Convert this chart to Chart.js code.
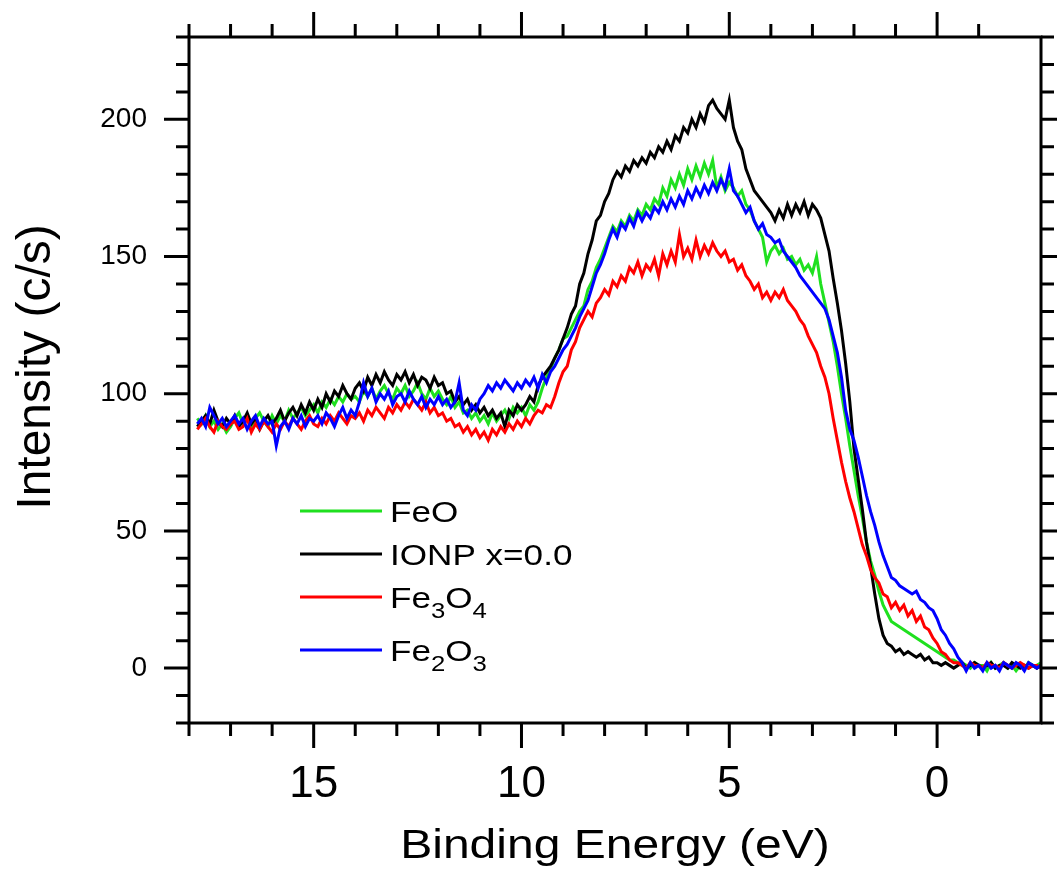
<!DOCTYPE html>
<html>
<head>
<meta charset="utf-8">
<script src="https://cdn.jsdelivr.net/npm/chart.js@4.4.1/dist/chart.umd.min.js"></script>
<style>
  body { margin: 0; background: #fff; }
  #wrap { width: 1057px; height: 873px; }
</style>
</head>
<body>
<div id="wrap"><canvas id="myChart"></canvas></div>
<script>
// binding energy grid, 17.8 eV down to -2.5 eV in 0.1 eV steps
const energyStart = 17.8;
const energyStep = 0.1;
const energy = [];
for (let i = 0; i < 204; i++) {
  energy.push(+(energyStart - energyStep * i).toFixed(1));
}

// one row per eV (first row 17.8..17.0, last row -2.1..-2.5)
const feo = [
  91, 89, 92, 88, 90, 87, 89, 86, 88,
  91, 93, 89, 92, 88, 91, 93, 90, 88, 92,
  89, 92, 90, 94, 91, 93, 95, 92, 94, 96,
  93, 97, 95, 98, 96, 99, 97, 100, 98, 99,
  97, 101, 99, 102, 98, 101, 103, 100, 98, 102,
  100, 103, 99, 101, 104, 100, 98, 102, 99, 101,
  98, 96, 99, 95, 97, 93, 94, 91, 93, 90,
  92, 89, 93, 90, 92, 94, 91, 95, 93, 95,
  92, 96, 94, 97, 102, 106, 109, 113, 116, 120,
  121, 124, 127, 130, 132, 138, 141, 146, 149, 153,
  157, 161, 159, 163, 161, 165, 163, 167, 165, 169,
  167, 171, 169, 175, 172, 178, 175, 180, 176, 182,
  178, 183, 179, 184, 180, 185, 175, 179, 174, 177,
  175, 172, 174, 169, 167, 163, 160, 157, 148, 152,
  154, 151, 153, 149, 150, 147, 149, 145, 147, 144,
  150, 140, 133, 126, 119, 110, 100, 91, 81, 72,
  63, 55, 46, 39, 34, 28, 23, 20, 17, 16,
  15, 14, 13, 12, 11, 10, 9, 8, 7, 6,
  5, 4, 3, 3, 2, 2, 1, 0, 2, 1,
  1, -1, 2, 0, 1, 2, 0, 1, -1, 1,
  0, 2, 1, 1, 2
];

const ionp = [
  88, 90, 92, 89, 94, 90, 88, 91, 89,
  92, 88, 90, 93, 89, 91, 87, 90, 92, 89,
  91, 94, 90, 93, 95, 92, 96, 93, 97, 94,
  98, 95, 100, 97, 101, 99, 103, 100, 98, 102,
  104, 101, 106, 103, 107, 104, 108, 105, 103, 107,
  105, 108, 104, 107, 103, 106, 105, 102, 106, 103,
  104, 100, 101, 97, 99, 96, 98, 94, 96, 93,
  95, 92, 94, 91, 93, 88, 94, 92, 96, 94,
  96, 99, 97, 103, 106, 108, 110, 113, 116, 120,
  124, 129, 132, 140, 144, 151, 156, 163, 165, 170,
  173, 178, 181, 179, 183, 181, 185, 183, 186, 184,
  188, 186, 190, 188, 192, 189, 194, 192, 197, 195,
  200, 197, 202, 199, 205, 207, 204, 202, 200, 207,
  197, 192, 189, 182, 178, 174, 172, 170, 168, 166,
  163, 167, 164, 169, 165, 169, 166, 170, 165, 169,
  167, 164, 158, 152, 142, 133, 123, 111, 97, 80,
  69, 58, 46, 37, 27, 18, 12, 9, 8, 6,
  7, 5, 6, 5, 4, 5, 3, 4, 2, 2,
  1, 2, 1, 0, 1, 2, 0, 1, 2, 1,
  0, 1, 2, 0, 1, 1, 0, 2, 1, 0,
  1, 0, 1, 0, 1
];

const fe3o4 = [
  87, 89, 91, 88, 86, 90, 88, 87, 89,
  90, 87, 88, 91, 86, 89, 87, 90, 88, 86,
  89, 87, 90, 88, 91, 89, 87, 90, 92, 89,
  88, 91, 89, 92, 90, 93, 91, 89, 92, 91,
  93, 90, 94, 92, 95, 93, 91, 95, 93, 96,
  94, 97, 95, 98, 96, 94, 97, 93, 95, 92,
  93, 90, 91, 88, 89, 86, 88, 85, 87, 84,
  86, 83, 87, 85, 88, 86, 89, 87, 90, 88,
  91, 89, 92, 94, 93, 96, 95, 99, 104, 108,
  110, 116, 119, 124, 127, 130, 128, 133, 135, 138,
  136, 141, 139, 143, 141, 146, 144, 148, 143, 147,
  145, 149, 143, 151, 147, 152, 148, 158, 150, 153,
  149, 156, 150, 154, 151, 155, 152, 150, 152, 148,
  149, 145, 147, 143, 141, 138, 140, 135, 137, 134,
  137, 135, 138, 134, 132, 130, 127, 125, 121, 118,
  115, 110, 106, 100, 91, 83, 75, 68, 62, 57,
  51, 45, 41, 36, 33, 31, 27, 26, 22, 24,
  21, 23, 19, 21, 17, 19, 15, 14, 11, 9,
  6, 5, 3, 2, 2, 1, 0, 2, 1, 1,
  0, 2, 1, 1, 0, 2, 1, 0, 1, 2,
  1, 0, 1, 1, 0
];

const fe2o3 = [
  89, 91, 88, 95, 92, 89, 91, 88, 90,
  92, 89, 91, 87, 90, 92, 88, 91, 89, 90,
  81, 88, 90, 87, 91, 89, 92, 88, 91, 90,
  92, 89, 93, 91, 88, 92, 95, 91, 94, 92,
  97, 104, 99, 102, 97, 100, 98, 101, 96, 99,
  100, 97, 101, 98, 96, 99, 95, 98, 96, 99,
  96, 98, 95, 97, 104, 94, 92, 96, 94, 98,
  100, 103, 101, 104, 102, 105, 103, 101, 104, 102,
  105, 103, 106, 102, 107, 104, 108, 110, 113, 116,
  118, 121, 124, 128, 131, 134, 139, 144, 147, 151,
  156, 160, 157, 162, 160, 164, 161, 166, 163, 166,
  164, 168, 166, 170, 167, 171, 168, 172, 169, 174,
  171, 175, 172, 176, 173, 177, 174, 178, 175, 182,
  174, 172, 169, 166, 168, 163, 160, 162, 158, 157,
  155, 156, 152, 150, 148, 146, 143, 141, 139, 137,
  135, 133, 131, 127, 121, 115, 106, 94, 87, 83,
  77, 70, 63, 57, 52, 46, 41, 37, 33, 32,
  30, 29, 28, 27, 28, 25, 24, 22, 21, 18,
  14, 12, 9, 7, 4, 2, -1, 2, 0, 1,
  -1, 2, 0, 1, -1, 2, 1, 0, 2, 1,
  -1, 2, 1, 0, 1
];

const seriesLabels = ['FeO', 'IONP x=0.0', 'Fe₃O₄', 'Fe₂O₃'];
const seriesColors = ['#1fe01f', '#000000', '#ff0000', '#0000ff'];
const seriesValues = [feo, ionp, fe3o4, fe2o3];

const xMin = -2.5, xMax = 18;
const yMin = -20, yMax = 230;

const FONT = "'Liberation Sans', Arial, sans-serif";

// box frame with outward ticks on all four sides
const frameTicks = {
  id: 'frameTicks',
  afterDatasetsDraw(chart) {
    const ctx = chart.ctx, a = chart.chartArea;
    const x = chart.scales.x, y = chart.scales.y;
    ctx.save();
    ctx.strokeStyle = '#000';
    ctx.lineWidth = 3;
    ctx.lineCap = 'butt';
    ctx.strokeRect(a.left, a.top, a.right - a.left, a.bottom - a.top);
    ctx.beginPath();
    x.ticks.forEach(t => {
      if (!Number.isInteger(t.value)) return;
      const px = x.getPixelForValue(t.value);
      const len = t.value % 5 === 0 ? 25 : 13;
      ctx.moveTo(px, a.bottom); ctx.lineTo(px, a.bottom + len);
      ctx.moveTo(px, a.top); ctx.lineTo(px, a.top - len);
    });
    y.ticks.forEach(t => {
      const py = y.getPixelForValue(t.value);
      const len = t.value % 50 === 0 ? 25 : 13;
      ctx.moveTo(a.left, py); ctx.lineTo(a.left - len, py);
      ctx.moveTo(a.right, py); ctx.lineTo(a.right + len, py);
    });
    ctx.stroke();
    ctx.restore();
  }
};

// axis titles and the in-plot legend (with subscripts)
const labelsPlugin = {
  id: 'labelsPlugin',
  afterDraw(chart) {
    const ctx = chart.ctx, a = chart.chartArea;
    ctx.save();
    ctx.fillStyle = '#000';

    // x title
    ctx.font = '40px ' + FONT;
    ctx.textAlign = 'center';
    ctx.textBaseline = 'alphabetic';
    ctx.save();
    ctx.translate((a.left + a.right) / 2, 858);
    ctx.scale(1.2, 1);
    ctx.fillText('Binding Energy (eV)', 0, 0);
    ctx.restore();

    // y title
    ctx.save();
    ctx.font = '48px ' + FONT;
    ctx.translate(50, 367);
    ctx.rotate(-Math.PI / 2);
    ctx.fillText('Intensity (c/s)', 0, 0);
    ctx.restore();

    // legend
    const rowY = [511, 554, 597, 650];
    const subs = '₀₁₂₃₄₅₆₇₈₉';
    chart.data.datasets.forEach((ds, i) => {
      const yy = rowY[i];
      ctx.strokeStyle = ds.borderColor;
      ctx.lineWidth = 3;
      ctx.beginPath();
      ctx.moveTo(300, yy);
      ctx.lineTo(382, yy);
      ctx.stroke();
      ctx.save();
      ctx.translate(390, yy);
      ctx.scale(1.17, 1);
      ctx.textAlign = 'left';
      let cx = 0;
      for (const ch of ds.label) {
        const k = subs.indexOf(ch);
        if (k >= 0) {
          ctx.font = '22px ' + FONT;
          ctx.fillText(String(k), cx, 21);
          cx += ctx.measureText(String(k)).width;
        } else {
          ctx.font = '30px ' + FONT;
          ctx.fillText(ch, cx, 11);
          cx += ctx.measureText(ch).width;
        }
      }
      ctx.restore();
    });
    ctx.restore();
  }
};

const datasets = seriesValues.map((vals, i) => ({
  label: seriesLabels[i],
  data: vals.map((v, j) => ({ x: energy[j], y: v })),
  borderColor: seriesColors[i],
  borderWidth: 3,
  pointRadius: 0,
  fill: false,
  tension: 0,
  order: 4 - i
}));

// fixed scale boxes, no extra padding for half labels
function fitX(s) {
  s.height = 150;
  s.paddingLeft = 0;
  s.paddingRight = 0;
}
function fitY(s) {
  s.width = 189;
  s.paddingTop = 0;
  s.paddingBottom = 0;
}

const config = {
  type: 'line',
  data: { datasets: datasets },
  options: {
    responsive: true,
    maintainAspectRatio: false,
    animation: false,
    layout: { padding: { top: 37, right: 16, left: 0, bottom: 0 } },
    plugins: {
      legend: { display: false },
      tooltip: { enabled: false }
    },
    scales: {
      x: {
        type: 'linear',
        reverse: true,
        min: xMin,
        max: xMax,
        afterFit: fitX,
        grid: { display: false, drawTicks: false },
        border: { display: false },
        ticks: {
          stepSize: 1,
          autoSkip: false,
          maxRotation: 0,
          padding: 35,
          color: '#000',
          font: { family: FONT, size: 44 },
          callback: v => (Number.isInteger(v) && v % 5 === 0 ? String(v) : '')
        }
      },
      y: {
        min: yMin,
        max: yMax,
        afterFit: fitY,
        grid: { display: false, drawTicks: false },
        border: { display: false },
        ticks: {
          stepSize: 10,
          autoSkip: false,
          padding: 42,
          color: '#000',
          font: { family: FONT, size: 28 },
          callback: v => (v % 50 === 0 ? String(v) : '')
        }
      }
    }
  },
  plugins: [frameTicks, labelsPlugin]
};

new Chart(document.getElementById('myChart'), config);
</script>
</body>
</html>
